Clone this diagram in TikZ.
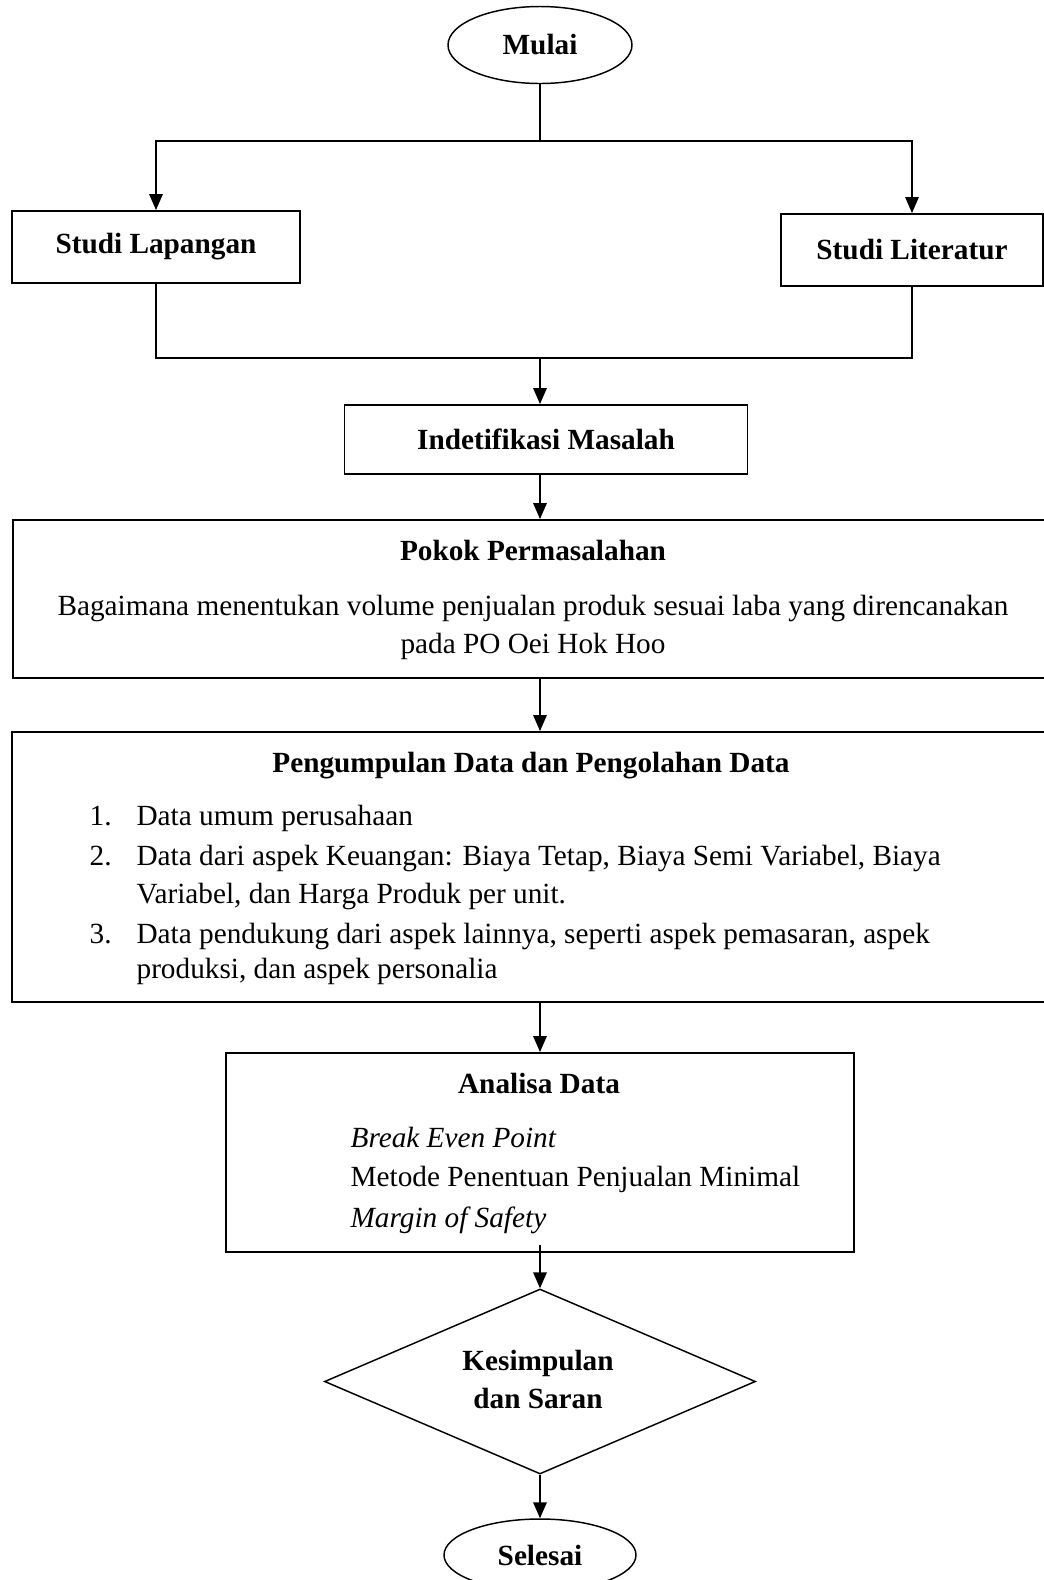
\documentclass[tikz,border=0pt]{standalone}
\usepackage{fontspec}
\setmainfont{Liberation Serif}
\usetikzlibrary{arrows.meta, positioning, shapes.geometric, calc}

\newcommand{\flowsize}{\fontsize{12}{15.6}\selectfont}
\def\unitpx{0.41pt}

\begin{document}
\begin{tikzpicture}[x=0.41pt, y=-0.41pt, >={Triangle[length=6.5pt,width=5.5pt]}, font=\flowsize]
		
		%======================
		% STYLES
		%======================
		\tikzset{
			box/.style={draw, line width=0.8pt, inner sep=0pt, align=center, font=\flowsize\bfseries},
			term/.style={draw, ellipse, line width=0.6pt, inner sep=0pt, font=\flowsize\bfseries},
			decide/.style={draw, diamond, line width=0.6pt, inner sep=0pt},
			flow/.style={line width=0.6pt},
			arr/.style={flow, ->},
			title/.style={anchor=mid, font=\flowsize\bfseries},
			plain/.style={anchor=mid, font=\flowsize},
			body/.style={anchor=mid west, font=\flowsize}
		}
		
		% page frame (pixel grid of the reference)
		\useasboundingbox (0,0) rectangle (1044,1580);
		
		%----------------------
		% Start and the two studies
		%----------------------
		\node[term, minimum width={184*\unitpx}, minimum height={77*\unitpx}] (start) at (540,45) {Mulai};
		\coordinate (split) at (540,141);
		
		\node[box, minimum width={288*\unitpx}, minimum height={72*\unitpx}] (lap) at (156,247) {Studi Lapangan};
		\node[box, minimum width={262*\unitpx}, minimum height={72*\unitpx}] (lit) at (912,250) {Studi Literatur};
		\coordinate (merge) at (540,358);
		
		%----------------------
		% Problem identification
		%----------------------
		\node[box, minimum width={403*\unitpx}, minimum height={69*\unitpx}] (idm) at (546,439.5) {Indetifikasi Masalah};
		
		\node[box, minimum width={1054*\unitpx}, minimum height={158*\unitpx}] (pokok) at (540,599) {};
		\node[title] (pokokT) at (533,555) {Pokok Permasalahan};
		\node[plain] (pokokA) at (533,610) {Bagaimana menentukan volume penjualan produk sesuai laba yang direncanakan};
		\node[plain] (pokokB) at (533,648) {pada PO Oei Hok Hoo};
		
		%----------------------
		% Data collection
		%----------------------
		\node[box, minimum width={1056*\unitpx}, minimum height={270*\unitpx}] (peng) at (540,867) {};
		\node[title] (pengT) at (531,767) {Pengumpulan Data dan Pengolahan Data};
		
		\foreach \n/\y in {1/820, 2/860, 3/938}
			\node[body] (num\n) at (81,\y) {\n.};
		\node[body] (item1) at (128,820) {Data umum perusahaan};
		\node[body] (item2) at (128,860) {Data dari aspek Keuangan: Biaya Tetap, Biaya Semi Variabel, Biaya};
		\node[body] (item2b) at (128,898) {Variabel, dan Harga Produk per unit.};
		\node[body] (item3) at (128,938) {Data pendukung dari aspek lainnya, seperti aspek pemasaran, aspek};
		\node[body] (item3b) at (128,973) {produksi, dan aspek personalia};
		
		%----------------------
		% Analysis
		%----------------------
		\node[box, minimum width={628*\unitpx}, minimum height={199*\unitpx}] (ana) at (540,1152.5) {};
		\node[title] (anaT) at (539,1088) {Analisa Data};
		\node[body] (bep) at (342,1142) {\itshape Break Even Point};
		\node[body] (minsale) at (342,1181) {Metode Penentuan Penjualan Minimal};
		\node[body] (mos) at (342,1222) {\itshape Margin of Safety};
		
		%----------------------
		% Conclusion and end
		%----------------------
		\node[decide, minimum width={431*\unitpx}, minimum height={185*\unitpx}] (kes) at (540,1381.5) {};
		\node[title] (kesA) at (538,1365) {Kesimpulan};
		\node[title] (kesB) at (538,1403) {dan Saran};
		
		\node[term, minimum width={192*\unitpx}, minimum height={72*\unitpx}] (end) at (540,1555) {Selesai};
		
		%----------------------
		% Connectors
		%----------------------
		\draw[flow] (start.south) -- (split);
		\draw[arr] (split) -| (lap.north);
		\draw[arr] (split) -| (lit.north);
		\draw[flow] (lap.south) |- (merge);
		\draw[flow] (lit.south) |- (merge);
		\draw[arr] (merge) -- (merge |- idm.north);
		\draw[arr] (pokok.north |- idm.south) -- (pokok.north);
		\draw[arr] (pokok.south) -- (peng.north);
		\draw[arr] (peng.south) -- (ana.north);
		\draw[arr] ([yshift=3.3pt]ana.south) -- (kes.north);
		\draw[arr] (kes.south) -- (end.north);
		
	\end{tikzpicture}
\end{document}
